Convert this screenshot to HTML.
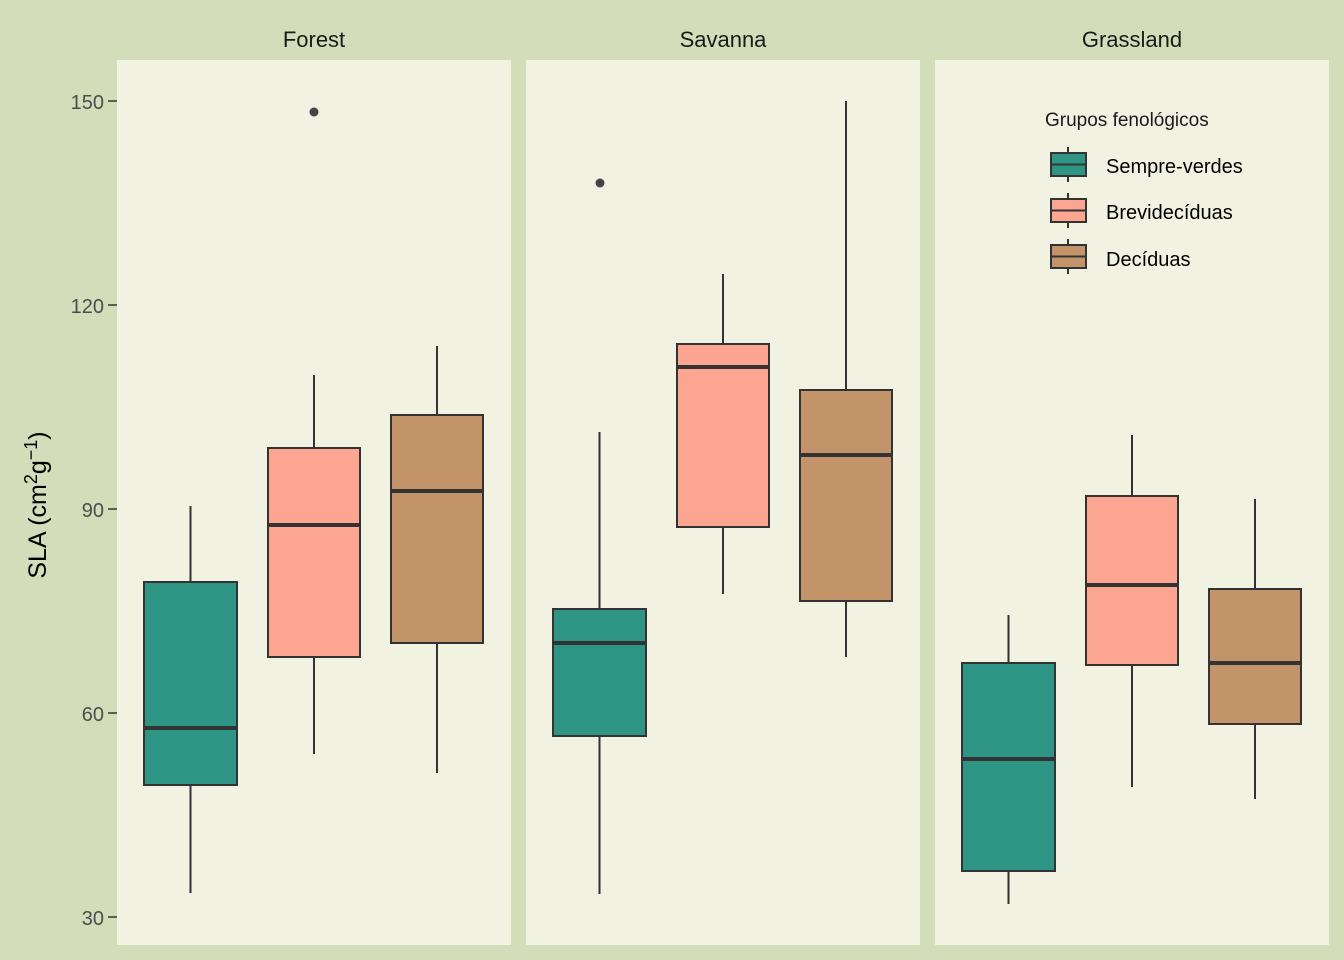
<!DOCTYPE html>
<html><head><meta charset="utf-8"><style>body{margin:0}svg{display:block}text{font-family:"Liberation Sans",sans-serif}</style></head><body>
<svg width="1344" height="960" xmlns="http://www.w3.org/2000/svg">
<rect width="1344" height="960" fill="#D4DDB9"/>
<rect x="117" y="60" width="394" height="885" fill="#F1F2E1"/>
<rect x="526" y="60" width="394" height="885" fill="#F1F2E1"/>
<rect x="935" y="60" width="394" height="885" fill="#F1F2E1"/>
<g font-size="22" fill="#1a1a1a" text-anchor="middle">
<text x="314" y="47">Forest</text><text x="723" y="47">Savanna</text><text x="1132" y="47">Grassland</text></g>
<g font-size="20" fill="#4d4d4d" text-anchor="end">
<text x="104" y="109">150</text><text x="104" y="313">120</text><text x="104" y="517">90</text><text x="104" y="721">60</text><text x="104" y="925">30</text></g>
<g stroke="#333" stroke-width="1.5"><line x1="108" x2="117" y1="101" y2="101"/><line x1="108" x2="117" y1="305" y2="305"/><line x1="108" x2="117" y1="509" y2="509"/><line x1="108" x2="117" y1="713" y2="713"/><line x1="108" x2="117" y1="917" y2="917"/></g>
<text transform="translate(46,505) rotate(-90)" font-size="25" fill="#000" text-anchor="middle">SLA (cm<tspan dy="-9" font-size="18">2</tspan><tspan dy="9">g</tspan><tspan dy="-9" font-size="18">−1</tspan><tspan dy="9">)</tspan></text>
<g stroke="#333" stroke-width="2">
<!-- x1,x2,wlo,whi,q1(bottom y),q3(top y),med -->
<line x1="190.5" x2="190.5" y1="893" y2="506"/><rect x="144" y="582" width="93" height="203" fill="#2E9584"/><line x1="144" x2="237" y1="728" y2="728" stroke-width="4"/>
<line x1="314" x2="314" y1="754" y2="375"/><rect x="268" y="448" width="92" height="209" fill="#FCA591"/><line x1="268" x2="360" y1="525" y2="525" stroke-width="4"/>
<line x1="437" x2="437" y1="773" y2="346"/><rect x="391" y="415" width="92" height="228" fill="#C39369"/><line x1="391" x2="483" y1="491" y2="491" stroke-width="4"/>
<line x1="599.5" x2="599.5" y1="894" y2="432"/><rect x="553" y="609" width="93" height="127" fill="#2E9584"/><line x1="553" x2="646" y1="643" y2="643" stroke-width="4"/>
<line x1="723" x2="723" y1="594" y2="274"/><rect x="677" y="344" width="92" height="183" fill="#FCA591"/><line x1="677" x2="769" y1="367" y2="367" stroke-width="4"/>
<line x1="846" x2="846" y1="657" y2="101"/><rect x="800" y="390" width="92" height="211" fill="#C39369"/><line x1="800" x2="892" y1="455" y2="455" stroke-width="4"/>
<line x1="1008.5" x2="1008.5" y1="904" y2="615"/><rect x="962" y="663" width="93" height="208" fill="#2E9584"/><line x1="962" x2="1055" y1="759" y2="759" stroke-width="4"/>
<line x1="1132" x2="1132" y1="787" y2="435"/><rect x="1086" y="496" width="92" height="169" fill="#FCA591"/><line x1="1086" x2="1178" y1="585" y2="585" stroke-width="4"/>
<line x1="1255" x2="1255" y1="799" y2="499"/><rect x="1209" y="589" width="92" height="135" fill="#C39369"/><line x1="1209" x2="1301" y1="663" y2="663" stroke-width="4"/>
</g>
<circle cx="314" cy="112" r="4.5" fill="#444"/><circle cx="600" cy="183" r="4.5" fill="#444"/>
<text x="1045" y="126" font-size="19" fill="#1a1a1a">Grupos fenológicos</text>
<g stroke="#333" stroke-width="2">
<line x1="1068" x2="1068" y1="147" y2="182"/><rect x="1051" y="153" width="35" height="23" fill="#2E9584"/><line x1="1051" x2="1086" y1="164.5" y2="164.5"/>
<line x1="1068" x2="1068" y1="193" y2="228"/><rect x="1051" y="199" width="35" height="23" fill="#FCA591"/><line x1="1051" x2="1086" y1="210.5" y2="210.5"/>
<line x1="1068" x2="1068" y1="239" y2="274"/><rect x="1051" y="245" width="35" height="23" fill="#C39369"/><line x1="1051" x2="1086" y1="256.5" y2="256.5"/>
</g>
<g font-size="20" fill="#000"><text x="1106" y="173">Sempre-verdes</text><text x="1106" y="219">Brevidecíduas</text><text x="1106" y="266">Decíduas</text></g>
</svg></body></html>
